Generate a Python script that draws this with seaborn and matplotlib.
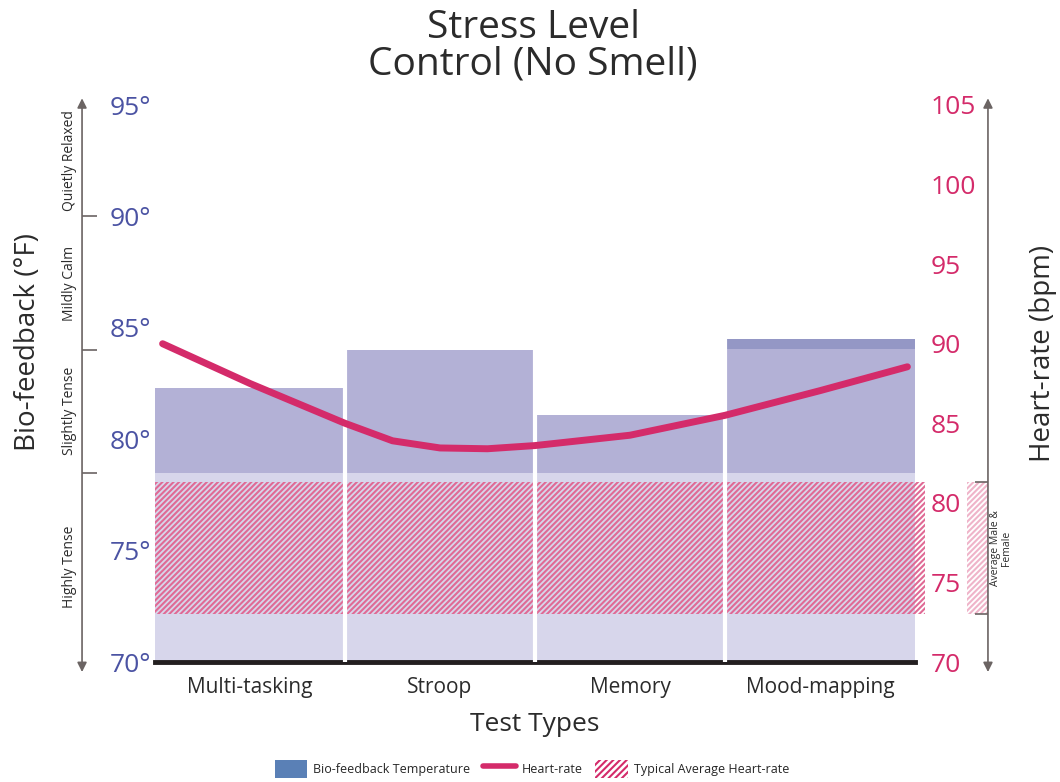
import numpy as np
import pandas as pd
import matplotlib
matplotlib.use('Agg')
import matplotlib.pyplot as plt
from matplotlib.patches import Patch, Rectangle
from matplotlib.lines import Line2D
import seaborn as sns

sns.set_theme(style='white')
plt.rcParams['font.family'] = ['Open Sans', 'DejaVu Sans']
plt.rcParams['hatch.linewidth'] = 1.5

# ---- data ----
tests = ['Multi-tasking', 'Stroop', 'Memory', 'Mood-mapping']
bio_temp = [82.3, 84.0, 81.1, 84.05]          # °F
bio_temp_peak = [82.3, 84.0, 81.1, 84.5]      # upper reading (dark cap)
highly_tense_max = 78.5                        # °F, lighter lower band

stress_bounds = [90, 84, 78.5]
stress_labels = ['Quietly Relaxed', 'Mildly Calm', 'Slightly Tense', 'Highly Tense']
stress_edges = [95, 90, 84, 78.5, 70]

hr_pos = [-0.46, 0.0, 0.5, 0.75, 1.0, 1.25, 1.5, 2.0, 2.5, 3.0, 3.46]
hr_bpm = [90.0, 87.5, 85.0, 83.9, 83.45, 83.4, 83.6, 84.25, 85.5, 87.05, 88.55]

hr_avg_lo, hr_avg_hi = 73.0, 81.3             # typical average heart-rate

# ---- colours ----
C_BAR = '#b3b1d6'
C_BAR_LIGHT = '#d7d6eb'
C_CAP = '#9497c5'
C_TEMP = '#4b53a3'
C_HR = '#d42b6a'
C_HATCH = '#e06a95'
C_TXT = '#2b2b2b'
C_AXIS = '#6b6463'

W, H = 1060, 782
fig = plt.figure(figsize=(W / 100, H / 100), dpi=100)
ax = fig.add_axes([155 / W, 1 - 662 / H, 760 / W, 557 / H])

df = pd.DataFrame({'test': tests, 'temp': bio_temp, 'peak': bio_temp_peak,
                   'low': [highly_tense_max] * len(tests)})

for col, c in [('peak', C_CAP), ('temp', C_BAR), ('low', C_BAR_LIGHT)]:
    sns.barplot(data=df, x='test', y=col, color=c, width=1, saturation=1,
                linewidth=0, ax=ax)

ax.set_ylim(70, 95)
ax.set_xlim(-0.5, len(tests) - 0.5)
ax.set_yticks([70, 75, 80, 85, 90, 95])
ax.set_yticklabels([f'{v}°' for v in [70, 75, 80, 85, 90, 95]])
ax.tick_params(axis='y', length=0, pad=3, labelsize=19, labelcolor=C_TEMP)
ax.tick_params(axis='x', length=0, pad=11, labelsize=15, labelcolor=C_TXT)
for s in ['top', 'left', 'right']:
    ax.spines[s].set_visible(False)
ax.spines['bottom'].set_color('#231f20')
ax.spines['bottom'].set_linewidth(3.5)
ax.spines['bottom'].set_zorder(5)

ax.set_xlabel('Test Types', fontsize=19, color=C_TXT, labelpad=10)
ax.set_ylabel('')
fig.text(28 / W, 1 - 342 / H, 'Bio-feedback (°F)', rotation=90, ha='center',
         va='center', fontsize=20, color=C_TXT)

# left stress-scale arrow + boundaries
ax.annotate('', xy=(-0.096, 1.012), xytext=(-0.096, -0.018),
            xycoords='axes fraction', textcoords='axes fraction',
            arrowprops=dict(arrowstyle='<|-|>', color=C_AXIS, lw=1.2,
                            mutation_scale=14, shrinkA=0, shrinkB=0))
yt = ax.get_yaxis_transform()
ax.hlines(stress_bounds, -0.096, -0.076, transform=yt, color=C_AXIS,
          lw=1.2, clip_on=False)
for lab, top, bot in zip(stress_labels, stress_edges[:-1], stress_edges[1:]):
    ax.text(-0.113, (top + bot) / 2, lab, transform=yt, rotation=90,
            ha='center', va='center', fontsize=10, color=C_TXT)

# ---- heart-rate axis ----
ax2 = ax.twinx()
ax2.set_ylim(70, 105)
ax2.set_yticks([70, 75, 80, 85, 90, 95, 100, 105])
ax2.tick_params(axis='y', length=0, pad=11, labelsize=19, labelcolor=C_HR)
for s in ax2.spines.values():
    s.set_visible(False)
ax2.grid(False)
ax.grid(False)

ax2.fill_between([-0.5, len(tests) - 0.45], hr_avg_lo, hr_avg_hi,
                 facecolor='none', edgecolor=C_HATCH, hatch='//////',
                 linewidth=0, clip_on=False, zorder=1)
for i in range(len(tests) - 1):
    ax2.axvline(i + 0.5, color='white', lw=3, zorder=2)

sns.lineplot(x=hr_pos, y=hr_bpm, ax=ax2, color=C_HR, lw=5,
             solid_capstyle='round', solid_joinstyle='round', zorder=3)
ax2.set_xlim(-0.5, len(tests) - 0.5)
ax2.set_ylabel('')
fig.text(1043 / W, 1 - 353 / H, 'Heart-rate (bpm)', rotation=90, ha='center',
         va='center', fontsize=20, color=C_TXT)

ax2.annotate('', xy=(1.096, 1.012), xytext=(1.096, -0.018),
             xycoords='axes fraction', textcoords='axes fraction',
             arrowprops=dict(arrowstyle='<|-|>', color=C_AXIS, lw=1.2,
                             mutation_scale=14, shrinkA=0, shrinkB=0))
yt2 = ax2.get_yaxis_transform()
ax2.add_patch(Rectangle((1.068, hr_avg_lo), 0.028, hr_avg_hi - hr_avg_lo,
                        transform=yt2, facecolor='none', edgecolor=C_HATCH,
                        hatch='//////', linewidth=0, alpha=0.5, clip_on=False))
ax2.hlines([hr_avg_lo, hr_avg_hi], 1.079, 1.096, transform=yt2,
           color=C_AXIS, lw=1.2, clip_on=False)
ax2.text(1.113, (hr_avg_lo + hr_avg_hi) / 2, 'Average Male &\nFemale',
         transform=yt2, rotation=90, ha='center', va='center',
         fontsize=7.5, color=C_TXT, linespacing=1.0)

# ---- title ----
fig.text(0.503, 1 - 46 / H, 'Stress Level\nControl (No Smell)', ha='center',
         va='center', fontsize=28, color=C_TXT, linespacing=0.95)

# ---- legend ----
handles = [Patch(facecolor='#5a80b6', edgecolor='none'),
           Line2D([0], [0], color=C_HR, lw=4, solid_capstyle='round'),
           Patch(facecolor='white', edgecolor=C_HR, hatch='/////', linewidth=0)]
labels = ['Bio-feedback Temperature', 'Heart-rate', 'Typical Average Heart-rate']
fig.legend(handles, labels, loc='center', bbox_to_anchor=(0.502, 1 - 769 / H),
           ncol=3, frameon=False, fontsize=9, handlelength=2.6,
           handleheight=1.9, columnspacing=1.0, handletextpad=0.5)

fig.savefig('out.png', dpi=100)
